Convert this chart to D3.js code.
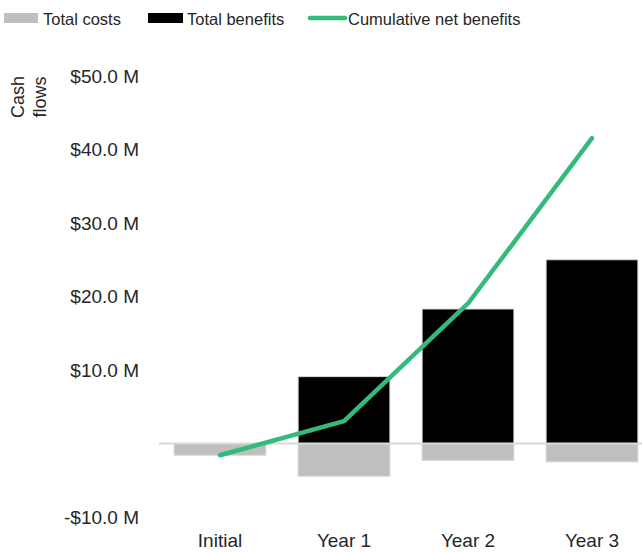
<!DOCTYPE html>
<html><head><meta charset="utf-8">
<script src="https://cdn.jsdelivr.net/npm/d3@7/dist/d3.min.js"></script>
<style>body{margin:0;background:#fff}svg{display:block;font-family:"Liberation Sans",Arial,sans-serif}</style>
</head><body>
<svg id="c" width="642" height="552"></svg>
<script>
const categories = ["Initial", "Year 1", "Year 2", "Year 3"];
const totalCosts = [-1.6, -4.45, -2.3, -2.5];
const totalBenefits = [0, 9.1, 18.3, 25.0];
const cumulativeNet = [-1.6, 3.05, 19.05, 41.55];
const tickValues = [-10, 10, 20, 30, 40, 50];
const legendLabels = ["Total costs", "Total benefits", "Cumulative net benefits"];

const svg = d3.select("#c");
const x = d3.scaleBand().domain(categories).range([158, 654]).paddingInner(0.26).paddingOuter(0.13);
const y = d3.scaleLinear().domain([-10, 50]).range([517, 76]);

// y axis labels
const yAxis = d3.axisLeft(y).tickValues(tickValues).tickSize(0).tickPadding(0)
  .tickFormat(d => (d < 0 ? "-$" : "$") + Math.abs(d).toFixed(1) + " M");
const ga = svg.append("g").attr("transform", "translate(139,0)").call(yAxis);
ga.select(".domain").remove();
ga.selectAll("text").attr("font-size", 19).attr("fill", "#262626").attr("font-family", "Liberation Sans, Arial, sans-serif");

// y title
const yt = svg.append("text").attr("transform", "translate(0,97) rotate(-90)")
  .attr("text-anchor", "middle").attr("font-size", 18).attr("fill", "#262626");
yt.append("tspan").attr("x", 0).attr("y", 24).text("Cash");
yt.append("tspan").attr("x", 0).attr("y", 46).text("flows");

// bars
svg.append("g").selectAll("rect").data(categories).join("rect")
  .attr("x", d => x(d)).attr("width", x.bandwidth())
  .attr("y", (d, i) => y(Math.max(0, totalBenefits[i])))
  .attr("height", (d, i) => Math.abs(y(totalBenefits[i]) - y(0)))
  .attr("fill", "#000").attr("stroke", "#d9d9d9").attr("stroke-width", 1)
  .style("display", (d, i) => totalBenefits[i] === 0 ? "none" : null);
svg.append("g").selectAll("rect").data(categories).join("rect")
  .attr("x", d => x(d)).attr("width", x.bandwidth())
  .attr("y", y(0))
  .attr("height", (d, i) => Math.abs(y(totalCosts[i]) - y(0)))
  .attr("fill", "#bfbfbf").attr("stroke", "#d9d9d9").attr("stroke-width", 1);

// zero line
svg.append("line").attr("x1", 159).attr("x2", 642).attr("y1", y(0)).attr("y2", y(0))
  .attr("stroke", "#d9d9d9").attr("stroke-width", 2);

// cumulative line
const line = d3.line().x((d, i) => x(categories[i]) + x.bandwidth() / 2).y(d => y(d));
svg.append("path").datum(cumulativeNet).attr("d", line)
  .attr("fill", "none").attr("stroke", "#33bb7b").attr("stroke-width", 4.5)
  .attr("stroke-linecap", "round").attr("stroke-linejoin", "round");

// x labels
svg.append("g").selectAll("text").data(categories).join("text")
  .attr("x", d => x(d) + x.bandwidth() / 2).attr("y", 547)
  .attr("text-anchor", "middle").attr("font-size", 19).attr("fill", "#262626").text(d => d);

// legend
const lg = svg.append("g");
lg.append("rect").attr("x", 4).attr("y", 13).attr("width", 34).attr("height", 10).attr("fill", "#bfbfbf");
lg.append("text").attr("x", 43).attr("y", 25).attr("font-size", 16.5).attr("fill", "#262626").text(legendLabels[0]);
lg.append("rect").attr("x", 148).attr("y", 13).attr("width", 35).attr("height", 10).attr("fill", "#000");
lg.append("text").attr("x", 187).attr("y", 25).attr("font-size", 16.5).attr("fill", "#262626").text(legendLabels[1]);
lg.append("line").attr("x1", 310).attr("x2", 345).attr("y1", 18).attr("y2", 18)
  .attr("stroke", "#33bb7b").attr("stroke-width", 4.5).attr("stroke-linecap", "round");
lg.append("text").attr("x", 348).attr("y", 25).attr("font-size", 16.5).attr("fill", "#262626").text(legendLabels[2]);
</script>
</body></html>
